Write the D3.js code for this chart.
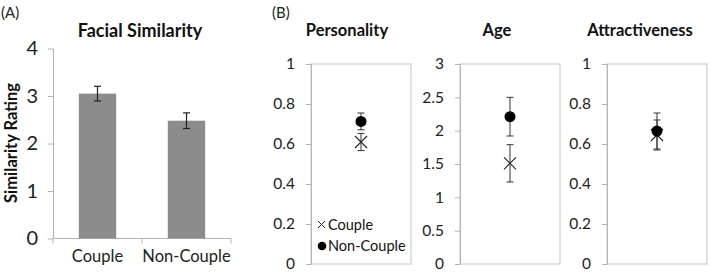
<!DOCTYPE html>
<html>
<head>
<meta charset="utf-8">
<script src="https://cdn.jsdelivr.net/npm/d3@7"></script>
<style>
  body { margin: 0; background: #fff; }
  svg { display: block; font-family: Lato, "Open Sans", sans-serif; }
</style>
</head>
<body>
<div id="wrapper"></div>
<script>
// panel A data
const groups = ["Couple", "Non-Couple"]
const facialMean = [3.05, 2.48]
const facialErr = [0.155, 0.165]
const facialTicks = [0, 1, 2, 3, 4]

// panel B data
const traits = ["Personality", "Age", "Attractiveness"]
const traitMax = [1, 3, 1]
const traitTicks = [
  [0, 0.2, 0.4, 0.6, 0.8, 1],
  [0, 0.5, 1, 1.5, 2, 2.5, 3],
  [0, 0.2, 0.4, 0.6, 0.8, 1],
]
const coupleMean = [0.61, 1.51, 0.645]
const coupleErr = [0.043, 0.28, 0.075]
const nonCoupleMean = [0.713, 2.21, 0.665]
const nonCoupleErr = [0.042, 0.29, 0.09]

function drawChart() {
  const width = 710, height = 273
  const svg = d3.select("#wrapper").append("svg")
      .attr("width", width)
      .attr("height", height)

  const axisGrey = "#b4b4b4"

  //---------------- panel A ----------------
  svg.append("text").attr("x", 1).attr("y", 18)
      .style("font-size", "15px").attr("fill", "#222").text("(A)")

  const ax = d3.scaleBand().domain(groups).range([53, 231]).paddingInner(0.58).paddingOuter(0.29)
  const ay = d3.scaleLinear().domain([0, 4]).range([238.5, 48.5])

  const aBounds = svg.append("g")

  aBounds.append("text")
      .attr("x", 140).attr("y", 37)
      .attr("text-anchor", "middle")
      .style("font-size", "18px").style("font-weight", "bold")
      .attr("fill", "#111")
      .text("Facial Similarity")

  const yAxisA = aBounds.append("g")
      .attr("transform", "translate(53,0)")
      .call(d3.axisLeft(ay).tickValues(facialTicks).tickSize(5).tickPadding(10).tickSizeOuter(0).tickFormat(d3.format("d")))
  yAxisA.selectAll("text").style("font-size", "20px").attr("fill", "#222").attr("font-family", "Lato")
  yAxisA.selectAll("line").attr("stroke", axisGrey)
  yAxisA.select(".domain").attr("stroke", axisGrey)

  // x axis with tick marks between categories
  const xAxisA = aBounds.append("g").attr("transform", `translate(0,${ay(0)})`)
  xAxisA.append("line").attr("x1", 53).attr("x2", 231).attr("stroke", axisGrey)
  xAxisA.selectAll("line.sep")
      .data([53, (ax("Couple") + ax.bandwidth() + ax("Non-Couple")) / 2, 231])
      .enter().append("line")
      .attr("class", "sep")
      .attr("x1", d => d).attr("x2", d => d)
      .attr("y1", 0).attr("y2", 5)
      .attr("stroke", axisGrey)
  xAxisA.selectAll("text")
      .data(groups)
      .enter().append("text")
      .attr("x", d => ax(d) + ax.bandwidth() / 2)
      .attr("y", 23)
      .attr("text-anchor", "middle")
      .style("font-size", "16.5px")
      .attr("fill", "#222")
      .text(d => d)

  aBounds.selectAll("rect.bar")
      .data(groups)
      .enter().append("rect")
      .attr("class", "bar")
      .attr("x", d => ax(d))
      .attr("width", ax.bandwidth())
      .attr("y", (d, i) => ay(facialMean[i]))
      .attr("height", (d, i) => ay(0) - ay(facialMean[i]))
      .attr("fill", "#8c8c8c")

  const errA = aBounds.selectAll("g.err")
      .data(groups)
      .enter().append("g")
      .attr("class", "err")
      .attr("stroke", "#222")
      .attr("stroke-width", 1.2)
  errA.append("line")
      .attr("x1", d => ax(d) + ax.bandwidth() / 2).attr("x2", d => ax(d) + ax.bandwidth() / 2)
      .attr("y1", (d, i) => ay(facialMean[i] + facialErr[i]))
      .attr("y2", (d, i) => ay(facialMean[i] - facialErr[i]))
  errA.selectAll("line.cap")
      .data((d, i) => [[d, facialMean[i] + facialErr[i]], [d, facialMean[i] - facialErr[i]]])
      .enter().append("line")
      .attr("class", "cap")
      .attr("x1", d => ax(d[0]) + ax.bandwidth() / 2 - 3.5)
      .attr("x2", d => ax(d[0]) + ax.bandwidth() / 2 + 3.5)
      .attr("y1", d => ay(d[1])).attr("y2", d => ay(d[1]))

  svg.append("text")
      .attr("transform", "translate(17,143) rotate(-90)")
      .attr("text-anchor", "middle")
      .style("font-size", "16.5px").style("font-weight", "bold")
      .attr("fill", "#111")
      .text("Similarity Rating")

  //---------------- panel B ----------------
  svg.append("text").attr("x", 272).attr("y", 18)
      .style("font-size", "15px").attr("fill", "#222").text("(B)")

  const boxLeft = [311, 460, 607]
  const boxWidth = 100
  const titleX = [347, 497, 640]
  const by = [0, 1, 2].map(i => d3.scaleLinear().domain([0, traitMax[i]]).range([264, 64]))

  traits.forEach((trait, i) => {
    const g = svg.append("g")
    const y = by[i]
    const left = boxLeft[i], right = left + boxWidth
    const cx = (left + right) / 2

    g.append("text")
        .attr("x", titleX[i]).attr("y", 36)
        .attr("text-anchor", "middle")
        .style("font-size", "16.5px").style("font-weight", "bold")
        .attr("fill", "#111")
        .text(trait)

    // frame
    g.append("rect")
        .attr("x", left).attr("y", y(traitMax[i]))
        .attr("width", boxWidth).attr("height", y(0) - y(traitMax[i]))
        .attr("fill", "none").attr("stroke", "#c4c4c4")

    const yAxis = g.append("g")
        .attr("transform", `translate(${left},0)`)
        .call(d3.axisLeft(y).tickValues(traitTicks[i]).tickSize(5).tickPadding(11).tickSizeOuter(0).tickFormat(d => d))
    yAxis.selectAll("text").style("font-size", "15.5px").attr("fill", "#222").attr("font-family", "Lato")
    yAxis.selectAll("line").attr("stroke", axisGrey)
    yAxis.select(".domain").attr("stroke", axisGrey)

    // error bars
    const series = [
      [coupleMean[i], coupleErr[i]],
      [nonCoupleMean[i], nonCoupleErr[i]],
    ]
    series.forEach(s => {
      const e = g.append("g").attr("stroke", "#333").attr("stroke-width", 1)
      e.append("line").attr("x1", cx).attr("x2", cx)
          .attr("y1", y(s[0] + s[1])).attr("y2", y(s[0] - s[1]))
      ;[s[0] + s[1], s[0] - s[1]].forEach(v => {
        e.append("line").attr("x1", cx - 3.5).attr("x2", cx + 3.5)
            .attr("y1", y(v)).attr("y2", y(v))
      })
    })

    // couple cross
    const cy = y(coupleMean[i])
    g.append("path")
        .attr("d", `M${cx - 6},${cy - 6}L${cx + 6},${cy + 6}M${cx - 6},${cy + 6}L${cx + 6},${cy - 6}`)
        .attr("stroke", "#222").attr("stroke-width", 1.1)
    // non-couple dot
    g.append("circle")
        .attr("cx", cx).attr("cy", y(nonCoupleMean[i]))
        .attr("r", 5.5).attr("fill", "#000")
  })

  // legend in the personality box
  const legend = svg.append("g")
  legend.append("path")
      .attr("d", "M318,221L325,228M318,228L325,221")
      .attr("stroke", "#222").attr("stroke-width", 1)
  legend.append("text").attr("x", 328).attr("y", 230)
      .style("font-size", "14.5px").attr("fill", "#111").text(groups[0])
  legend.append("circle").attr("cx", 322).attr("cy", 246).attr("r", 4.3).attr("fill", "#000")
  legend.append("text").attr("x", 328).attr("y", 251)
      .style("font-size", "14.5px").attr("fill", "#111").text(groups[1])
}
drawChart()
</script>
</body>
</html>
